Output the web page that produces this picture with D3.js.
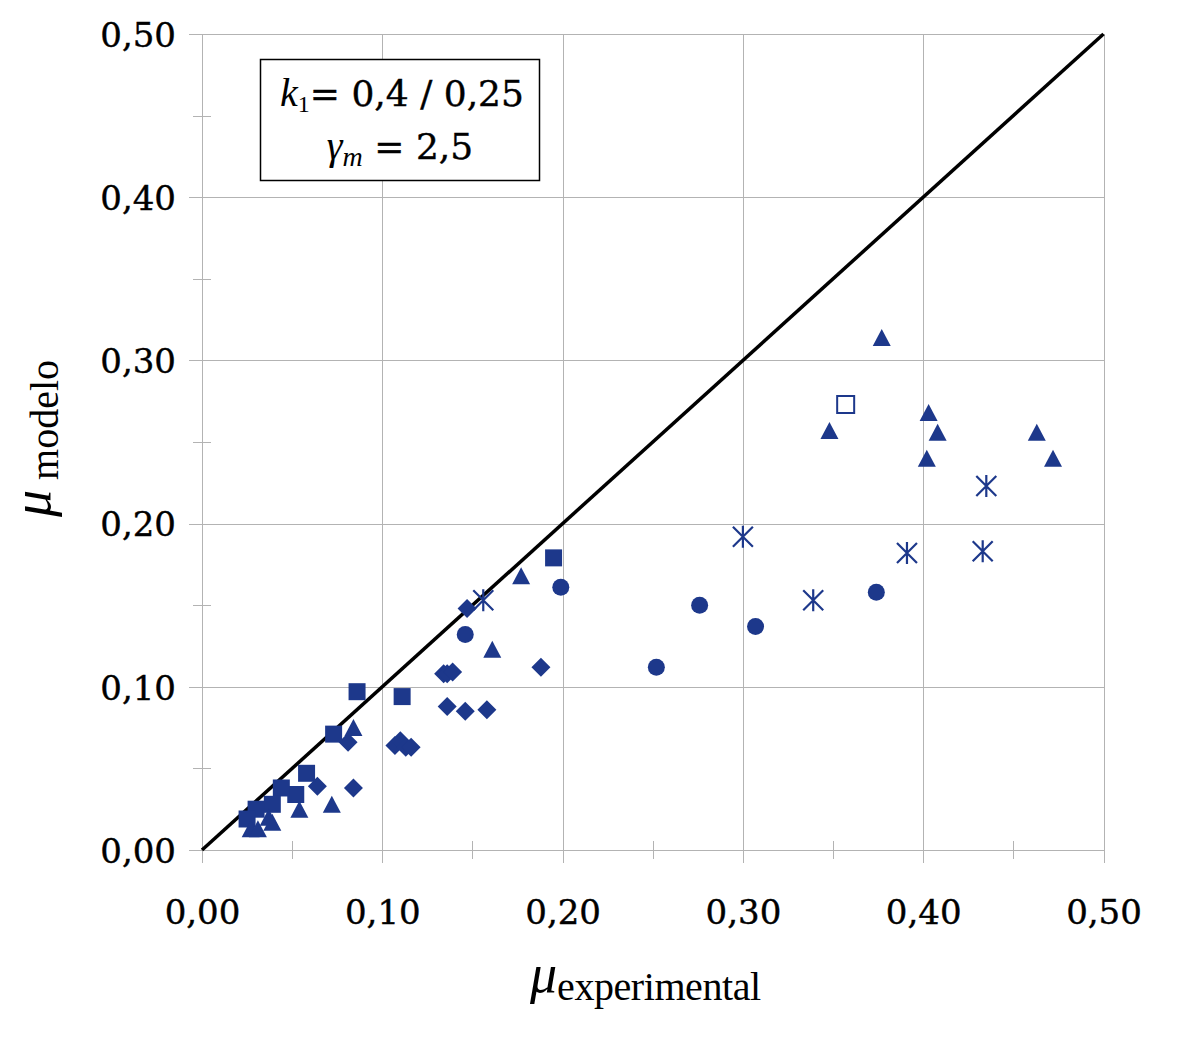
<!DOCTYPE html>
<html lang="es">
<head>
<meta charset="UTF-8">
<title>μ modelo vs μ experimental</title>
<script src="https://d3js.org/d3.v7.min.js"></script>
<style>
  body { margin: 0; background: #fff; }
  .grid line { stroke: #b3b3b3; stroke-width: 1; shape-rendering: crispEdges; }
  .grid .domain { display: none; }
  .ticklab { font-family: "DejaVu Serif", serif; font-size: 34px; fill: #000; stroke: #000; stroke-width: 0.4px; }
  .title { font-family: "Liberation Serif", serif; fill: #000; }
</style>
</head>
<body>
<div id="chart"></div>
<script>
// valores (x = μ experimental, y = μ modelo)
const triangles = [
  [0.377, 0.314], [0.348, 0.257], [0.403, 0.268], [0.408, 0.256], [0.402, 0.240],
  [0.463, 0.256], [0.472, 0.240], [0.177, 0.168], [0.161, 0.123], [0.084, 0.075],
  [0.072, 0.028], [0.054, 0.025], [0.039, 0.017], [0.037, 0.020], [0.027, 0.013],
  [0.031, 0.013]
];
const squares = [
  [0.195, 0.179], [0.086, 0.097], [0.111, 0.094], [0.073, 0.071], [0.058, 0.047],
  [0.052, 0.034], [0.044, 0.038], [0.039, 0.028], [0.030, 0.025], [0.025, 0.019]
];
const openSquares = [[0.357, 0.273]];
const diamonds = [
  [0.147, 0.148], [0.134, 0.108], [0.136, 0.108], [0.139, 0.109], [0.188, 0.112],
  [0.136, 0.088], [0.146, 0.085], [0.158, 0.086], [0.081, 0.066], [0.064, 0.039],
  [0.084, 0.038], [0.107, 0.064], [0.110, 0.067], [0.113, 0.063], [0.116, 0.063]
];
const circles = [
  [0.199, 0.161], [0.146, 0.132], [0.276, 0.150], [0.307, 0.137], [0.252, 0.112],
  [0.374, 0.158]
];
const stars = [
  [0.156, 0.153], [0.300, 0.192], [0.339, 0.153], [0.391, 0.182], [0.433, 0.183],
  [0.435, 0.223]
];
const refLine = [0, 0.5];
const majorTicks = [0, 0.1, 0.2, 0.3, 0.4, 0.5];
const minorTicks = [0.05, 0.15, 0.25, 0.35, 0.45];

const W = 1181, H = 1037;
const blue = "#1d388b";
const fmt = d => d3.format(".2f")(d).replace(".", ",");

const svg = d3.select("#chart").append("svg")
  .attr("width", W).attr("height", H);

const x = d3.scaleLinear().domain([0, 0.5]).range([202, 1103.5]);
const y = d3.scaleLinear().domain([0, 0.5]).range([850, 34]);

// rejilla vertical + etiquetas X
const gx = svg.append("g").attr("class", "grid")
  .attr("transform", "translate(0,863)")
  .call(d3.axisBottom(x).tickValues(majorTicks).tickSize(-(863 - 34)).tickPadding(37).tickFormat(fmt));
gx.selectAll("text").attr("class", "ticklab").attr("font-size", null).attr("font-family", null);

// rejilla horizontal + etiquetas Y
const gy = svg.append("g").attr("class", "grid")
  .attr("transform", "translate(189,0)")
  .call(d3.axisLeft(y).tickValues(majorTicks).tickSize(-(1103.5 - 189)).tickPadding(13).tickFormat(fmt));
gy.selectAll("text").attr("class", "ticklab").attr("font-size", null).attr("font-family", null)
  .attr("dy", "0.36em");

// marcas secundarias
svg.append("g").attr("class", "grid")
  .attr("transform", "translate(0,859)")
  .call(d3.axisBottom(x).tickValues(minorTicks).tickSize(-18).tickFormat(""));
svg.append("g").attr("class", "grid")
  .attr("transform", "translate(211,0)")
  .call(d3.axisLeft(y).tickValues(minorTicks).tickSize(18).tickFormat(""));

// recta y = x
svg.append("path")
  .datum(refLine)
  .attr("d", d3.line().x(d => x(d)).y(d => y(d)))
  .attr("stroke", "#000").attr("stroke-width", 3.5).attr("fill", "none");

// formas de los marcadores
const shapes = {
  triangle: "M0,-8.5L9,8.5L-9,8.5Z",
  square: "M-8.5,-8.5H8.5V8.5H-8.5Z",
  diamond: "M0,-9.5L9.5,0L0,9.5L-9.5,0Z",
  star: "M0,-11V11M-10,-10L10,10M-10,10L10,-10"
};

function plot(data, shape, filled) {
  svg.append("g").selectAll("path").data(data).join("path")
    .attr("transform", d => `translate(${x(d[0])},${y(d[1])})`)
    .attr("d", shapes[shape])
    .attr("fill", filled ? blue : "none")
    .attr("stroke", filled ? "none" : blue)
    .attr("stroke-width", shape === "star" ? 2.2 : 2);
}

plot(diamonds, "diamond", true);
plot(squares, "square", true);
plot(triangles, "triangle", true);
svg.append("g").selectAll("circle").data(circles).join("circle")
  .attr("cx", d => x(d[0])).attr("cy", d => y(d[1])).attr("r", 8.5).attr("fill", blue);
plot(stars, "star", false);
plot(openSquares, "square", false);

// recuadro con parámetros
svg.append("rect").attr("x", 260.5).attr("y", 59.5).attr("width", 279).attr("height", 121)
  .attr("fill", "#fff").attr("stroke", "#000").attr("stroke-width", 1.5);
const t1 = svg.append("text").attr("class", "title").attr("x", 402).attr("y", 106)
  .attr("text-anchor", "middle").attr("font-size", 40);
t1.append("tspan").attr("font-style", "italic").text("k");
t1.append("tspan").attr("font-size", 24).attr("dy", 6).text("1");
t1.append("tspan").attr("dy", -6).attr("font-family", "DejaVu Serif").attr("font-size", 36)
  .attr("stroke", "#000").attr("stroke-width", 0.4).text("= 0,4 / 0,25");
const t2 = svg.append("text").attr("class", "title").attr("x", 400).attr("y", 159)
  .attr("text-anchor", "middle").attr("font-size", 40);
t2.append("tspan").attr("font-style", "italic").text("γ");
t2.append("tspan").attr("font-style", "italic").attr("font-size", 28).attr("dy", 7).text("m");
t2.append("tspan").attr("dy", -7).attr("font-family", "DejaVu Serif").attr("font-size", 36)
  .attr("stroke", "#000").attr("stroke-width", 0.4).text(" = 2,5");

// títulos de ejes
const tx = svg.append("text").attr("class", "title").attr("x", 530).attr("y", 992);
tx.append("tspan").attr("font-style", "italic").attr("font-size", 54).text("μ");
tx.append("tspan").attr("font-size", 40).attr("dy", 8).attr("textLength", 204).text("experimental");

const ty = svg.append("text").attr("class", "title")
  .attr("transform", "translate(50,517) rotate(-90)");
ty.append("tspan").attr("font-style", "italic").attr("font-size", 54).text("μ");
ty.append("tspan").attr("font-size", 40).attr("dx", 10).attr("dy", 8).text("modelo");
</script>
</body>
</html>
